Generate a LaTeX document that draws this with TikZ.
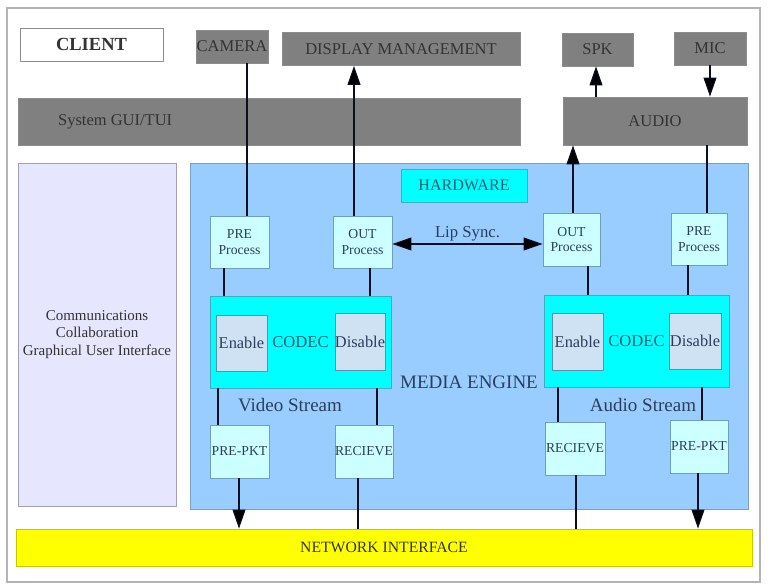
\documentclass[tikz,border=0pt]{standalone}
\usepackage{fontspec}
\setmainfont{Liberation Serif}
\usetikzlibrary{arrows.meta}
\definecolor{greyfill}{HTML}{808080}
\definecolor{greyline}{HTML}{8C8C8C}
\definecolor{txt}{HTML}{333333}
\definecolor{navy}{HTML}{2B3F5C}
\definecolor{teal}{HTML}{1E5E6E}
\definecolor{bluebg}{HTML}{99CCFF}
\definecolor{blueline}{HTML}{7F9FBF}
\definecolor{cyanfill}{HTML}{00FFFF}
\definecolor{cyanline}{HTML}{3FAFBF}
\definecolor{lcyan}{HTML}{CCFFFF}
\definecolor{lcyanline}{HTML}{6F9FBF}
\definecolor{endis}{HTML}{CFE2F3}
\definecolor{endisline}{HTML}{5F8FAF}
\definecolor{purple}{HTML}{E6E6FF}
\definecolor{purpleline}{HTML}{A0A0B0}
\definecolor{yellowfill}{HTML}{FFFF00}
\definecolor{yellowline}{HTML}{C8C800}
\definecolor{conn}{HTML}{0A1020}
\definecolor{frame}{HTML}{B4B4B4}
\tikzset{
  box/.style={rectangle, inner sep=0pt, line width=0.9pt, align=center},
  greybox/.style={box, fill=greyfill, draw=greyline, text=txt, font=\fontsize{16.5}{19}\selectfont},
  whitebox/.style={box, fill=white, draw=greyline, text=txt, font=\fontsize{18.5}{21}\selectfont\bfseries},
  procbox/.style={box, fill=lcyan, draw=lcyanline, text=navy, font=\fontsize{13.7}{15.5}\selectfont},
  codecbox/.style={box, fill=cyanfill, draw=cyanline, text=teal, font=\fontsize{16.6}{19}\selectfont},
  endisbox/.style={box, fill=endis, draw=endisline, text=navy, font=\fontsize{16.4}{19}\selectfont},
  bigtext/.style={text=navy, font=\fontsize{19}{22}\selectfont, inner sep=0pt},
  conline/.style={draw=conn, line width=1.1pt},
  conarrow/.style={conline, -{Triangle[width=13pt,length=19pt,fill=black]}},
  conboth/.style={conline, {Triangle[width=13pt,length=19pt,fill=black]}-{Triangle[width=13pt,length=19pt,fill=black]}}
}
\begin{document}
\begin{tikzpicture}[x=1pt,y=-1pt]
\useasboundingbox (0,0) rectangle (772,588);
\fill[white] (0,0) rectangle (772,588);
\draw[frame, line width=1.2pt] (7,8) rectangle (760,582);

% top row
\node[whitebox, minimum width=143pt, minimum height=33pt] (client) at (91.5,44.5) {CLIENT};
\node[greybox, minimum width=72pt, minimum height=33pt] (camera) at (232,46.5) {CAMERA};
\node[greybox, minimum width=238pt, minimum height=33pt] (display) at (401,49) {DISPLAY MANAGEMENT};
\node[greybox, minimum width=71pt, minimum height=33pt] (spk) at (597.5,49.5) {SPK};
\node[greybox, minimum width=72pt, minimum height=33pt] (mic) at (710,48.5) {MIC};

% second row
\node[greybox, minimum width=502pt, minimum height=47pt,
  label={[anchor=west, xshift=37pt, text=txt, font=\fontsize{16.5}{19}\selectfont]west:System GUI/TUI}] (gui) at (269,121.5) {};
\node[greybox, minimum width=184pt, minimum height=48pt] (audio) at (655,121) {AUDIO};

% left panel
\node[box, fill=purple, draw=purpleline, text=txt, minimum width=158pt, minimum height=343pt,
  font=\fontsize{15}{17.7}\selectfont] (comm) at (97,334.5) {Communications\\Collaboration\\Graphical User Interface};

% media engine
\node[box, fill=bluebg, draw=blueline, minimum width=558pt, minimum height=346pt] (engine) at (469,336) {};
\node[box, fill=cyanfill, draw=cyanline, text=teal, minimum width=126pt, minimum height=33pt,
  font=\fontsize{16.1}{19}\selectfont] (hardware) at (464,185.5) {HARDWARE};

\node[procbox, minimum width=59pt, minimum height=52pt] (vpre) at (239.5,242) {PRE\\Process};
\node[procbox, minimum width=59pt, minimum height=52pt] (vout) at (362.5,242) {OUT\\Process};
\node[procbox, minimum width=57pt, minimum height=53pt] (aout) at (571.5,239.5) {OUT\\Process};
\node[procbox, minimum width=56pt, minimum height=52pt] (apre) at (699,239) {PRE\\Process};

\node[codecbox, minimum width=181pt, minimum height=92pt] (vcodec) at (300.5,342) {CODEC};
\node[endisbox, minimum width=51pt, minimum height=56pt] (venable) at (241.5,343) {Enable};
\node[endisbox, minimum width=50pt, minimum height=57pt] (vdisable) at (360,341.5) {Disable};

\node[codecbox, minimum width=185pt, minimum height=92pt] (acodec) at (636.5,341) {CODEC};
\node[endisbox, minimum width=51pt, minimum height=57pt] (aenable) at (577.5,341.5) {Enable};
\node[endisbox, minimum width=52pt, minimum height=56pt] (adisable) at (695,341) {Disable};

\node[bigtext] (mediaengine) at (469,382) {MEDIA ENGINE};
\node[bigtext] (vstream) at (290,405) {Video Stream};
\node[bigtext] (astream) at (643,405) {Audio Stream};

\node[procbox, minimum width=59pt, minimum height=53pt] (vprepkt) at (239.5,451.5) {PRE-PKT};
\node[procbox, minimum width=58pt, minimum height=53pt] (vrecv) at (364,451.5) {RECIEVE};
\node[procbox, minimum width=60pt, minimum height=53pt] (arecv) at (575,448.5) {RECIEVE};
\node[procbox, minimum width=58pt, minimum height=53pt] (aprepkt) at (699,446.5) {PRE-PKT};

% network
\node[box, fill=yellowfill, draw=yellowline, text=txt, minimum width=736pt, minimum height=37pt,
  font=\fontsize{15.7}{18}\selectfont] (network) at (384,547.5) {NETWORK INTERFACE};

% connectors
\draw[conline] ([xshift=15pt]camera.south) -- ([xshift=7.5pt]vpre.north);
\draw[conarrow] ([xshift=-8.5pt]vout.north) -- ([xshift=-47pt]display.south);
\draw[conline] ([xshift=-15.5pt]vpre.south) -- ([xshift=-76.5pt]vcodec.north);
\draw[conline] ([xshift=7.5pt]vout.south) -- ([xshift=69.5pt]vcodec.north);
\draw[conline] ([xshift=-82.5pt]vcodec.south) -- ([xshift=-21.5pt]vprepkt.north);
\draw[conline] ([xshift=76.5pt]vcodec.south) -- ([xshift=13pt]vrecv.north);
\draw[conarrow] ([xshift=-0.5pt]vprepkt.south) -- ([xshift=-145pt]network.north);
\draw[conline] ([xshift=-6pt]vrecv.south) -- ([xshift=-26pt]network.north);

\draw[conarrow] ([xshift=1.5pt]aout.north) -- ([xshift=-82pt]audio.south);
\draw[conline] ([xshift=8pt]apre.north) -- ([xshift=52pt]audio.south);
\draw[conarrow] ([xshift=-59pt]audio.north) -- ([xshift=-1.5pt]spk.south);
\draw[conarrow] (mic.south) -- ([xshift=55pt]audio.north);
\draw[conline] ([xshift=16.5pt]aout.south) -- ([xshift=-48.5pt]acodec.north);
\draw[conline] ([xshift=-11pt]apre.south) -- ([xshift=51.5pt]acodec.north);
\draw[conline] ([xshift=-78.5pt]acodec.south) -- ([xshift=-17pt]arecv.north);
\draw[conline] ([xshift=65.5pt]acodec.south) -- ([xshift=3pt]aprepkt.north);
\draw[conline] ([xshift=1pt]arecv.south) -- ([xshift=192pt]network.north);
\draw[conarrow] ([xshift=-1pt]aprepkt.south) -- ([xshift=314pt]network.north);

\draw[conboth] ([yshift=-2pt]vout.east) -- node[above=1pt, text=navy, font=\fontsize{16.7}{19}\selectfont, inner sep=1pt] (lipsync) {Lip Sync.} ([yshift=-4.5pt]aout.west);
\end{tikzpicture}
\end{document}
